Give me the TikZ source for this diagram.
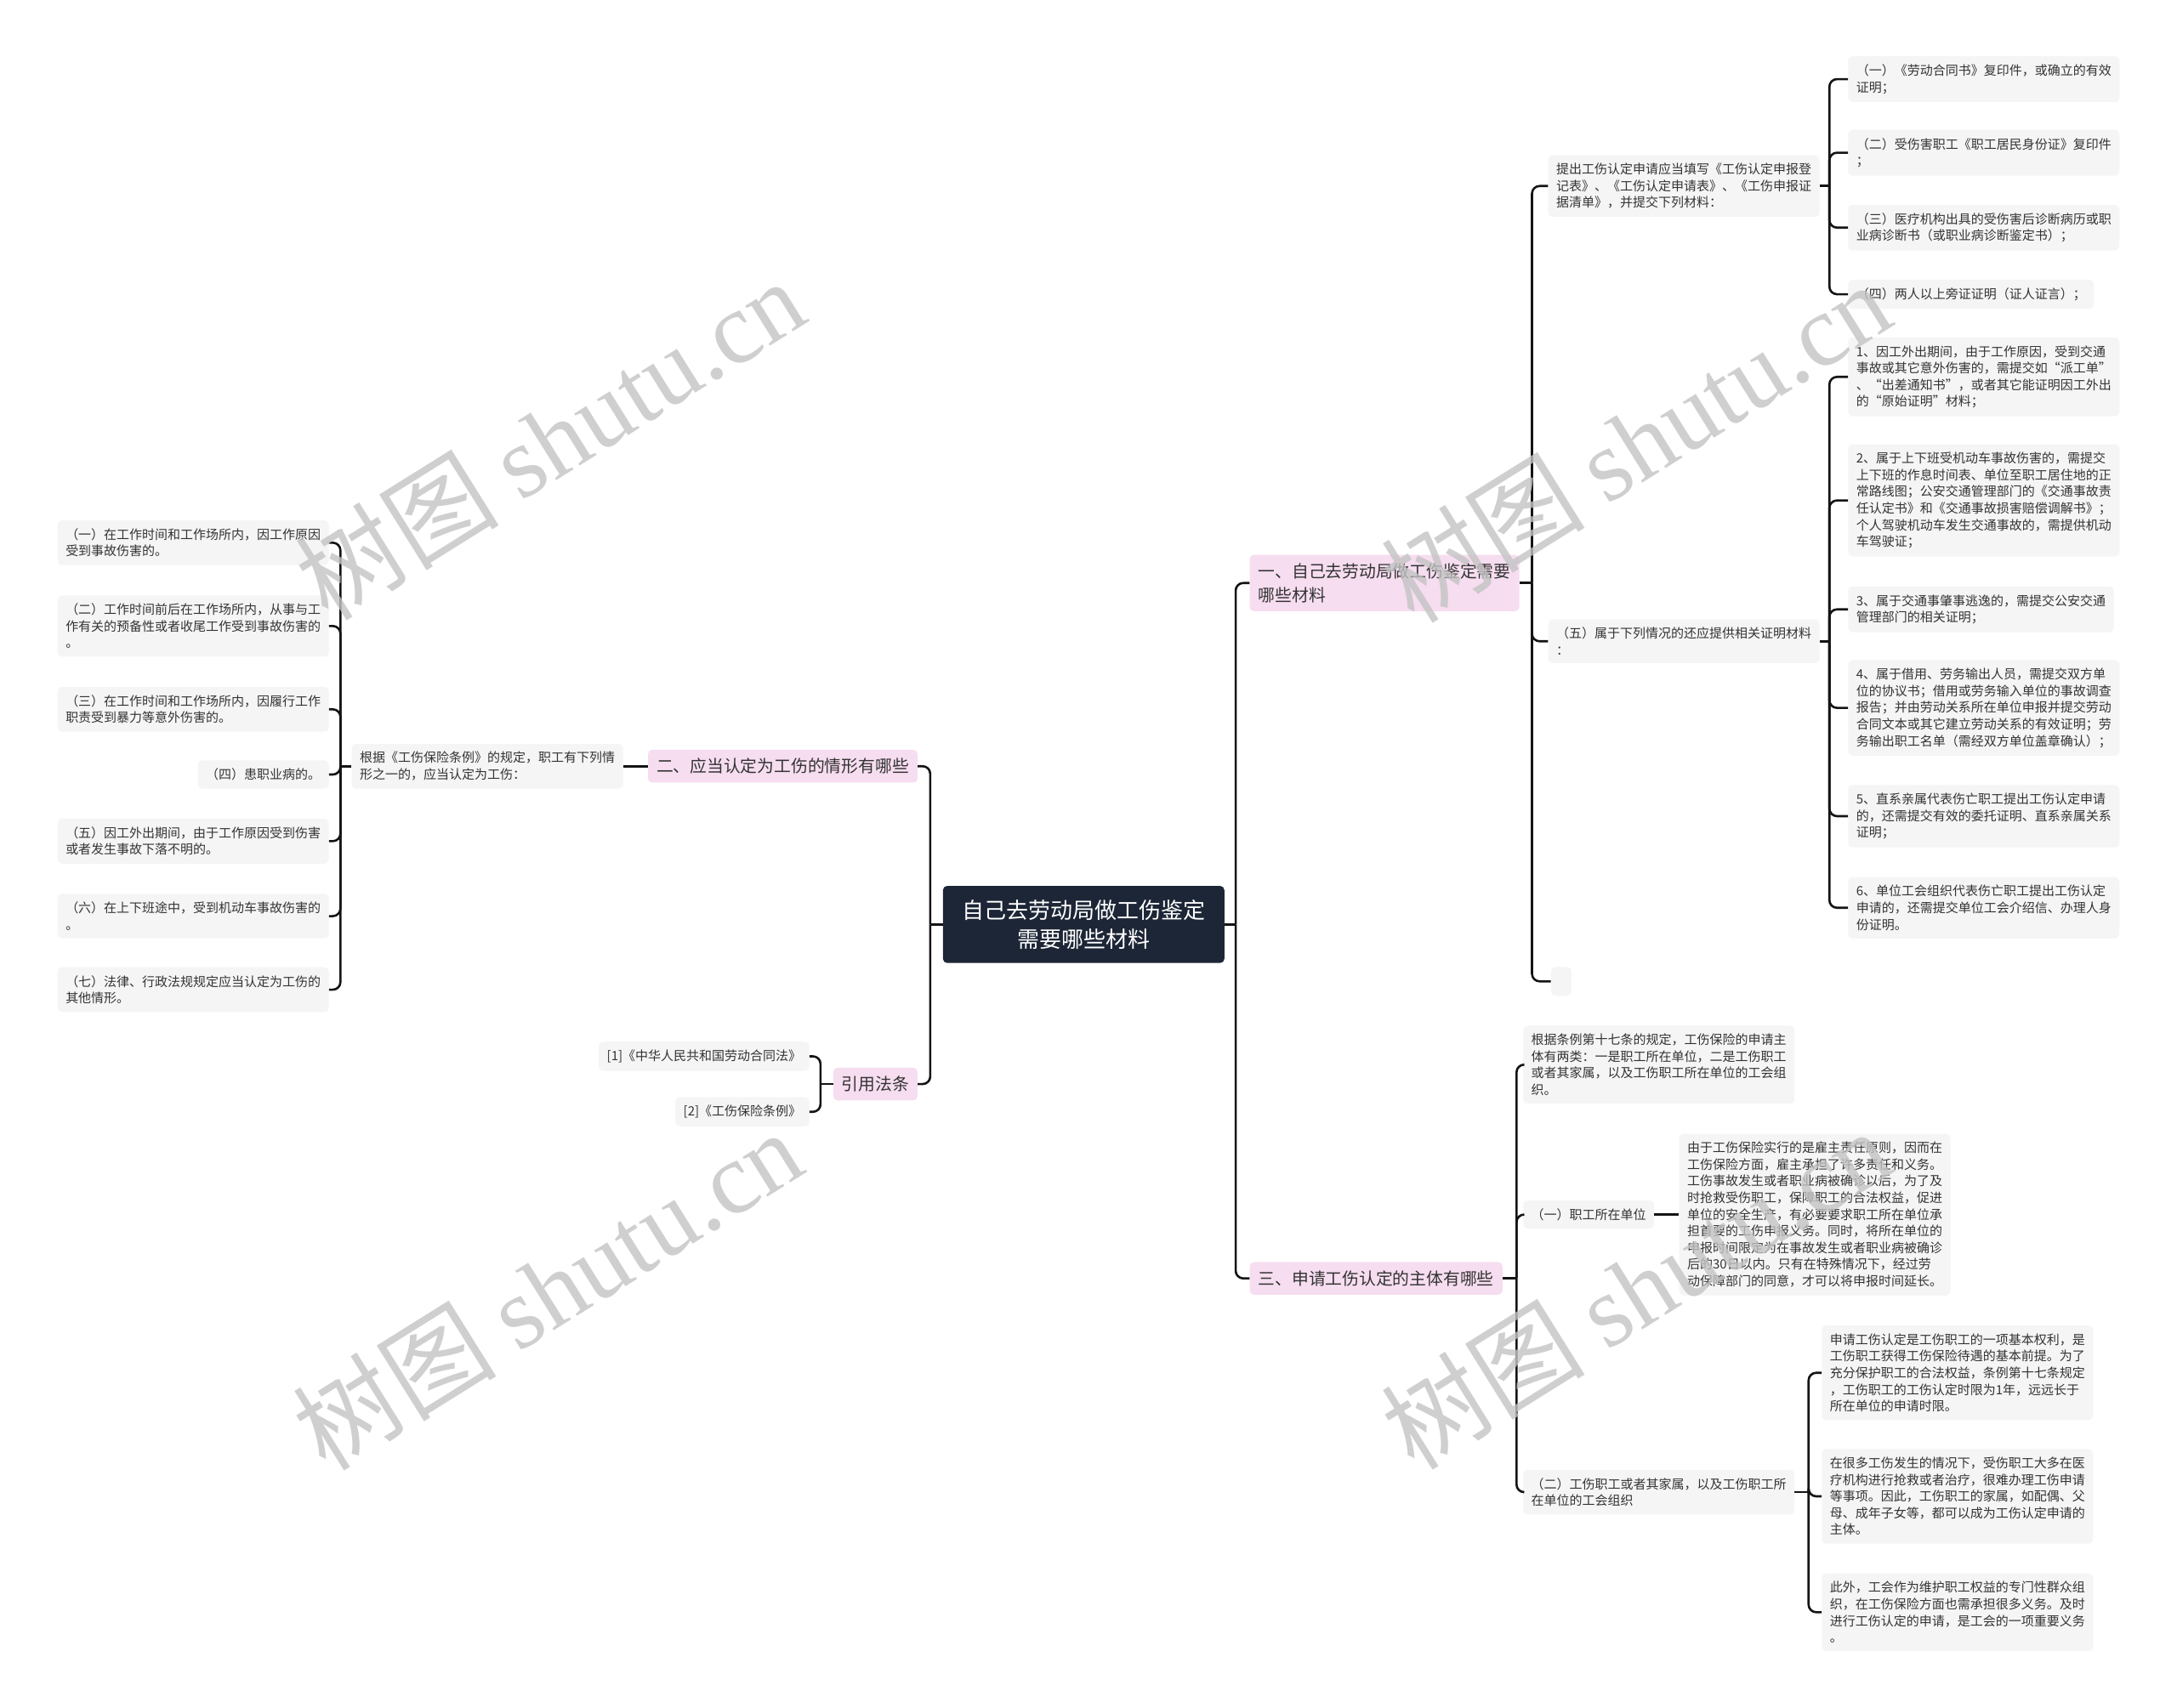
\documentclass[tikz,border=0pt]{standalone}
\usepackage{fontspec}
\setmainfont{Noto Sans CJK SC}
\newfontfamily\wmserif{Liberation Serif}
\usetikzlibrary{positioning}

\definecolor{rootc}{RGB}{29,38,54}
\definecolor{pinkc}{RGB}{246,221,240}
\definecolor{leafc}{RGB}{245,245,245}
\definecolor{txtc}{RGB}{51,51,51}
\definecolor{linec}{RGB}{20,20,20}
\definecolor{wmc}{RGB}{195,195,195}

\newcommand{\rootsize}{\fontsize{26}{34.5}\selectfont}
\newcommand{\topicsize}{\fontsize{19.8}{28}\selectfont}
\newcommand{\leafsize}{\fontsize{15}{19.6}\selectfont}

\begin{document}
\begin{tikzpicture}[
    x=1.6327pt, y=-1.6327pt,
    rootbox/.style={fill=rootc, text=white, rounded corners=5pt, font=\rootsize, align=center, inner xsep=22.5pt, inner ysep=16pt},
    topic/.style={fill=pinkc, text=txtc, rounded corners=5pt, font=\topicsize, align=left, inner xsep=10pt, inner ysep=10pt},
    leaf/.style={fill=leafc, text=txtc, rounded corners=5pt, font=\leafsize, align=left, inner xsep=9.5pt, inner ysep=9.5pt},
    link/.style={draw=linec, line width=2.6pt},
    turn/.style={link, rounded corners=9pt},
    wmtext/.style={text=wmc, opacity=0.8, rotate=32, font=\fontsize{120}{120}\selectfont}
]
    \useasboundingbox (0,0) rectangle (1568,1230.5);

    % centre
    \node[rootbox] (root) at (780.5,666) {自己去劳动局做工伤鉴定\\需要哪些材料};

    % main topics
    \node[topic, anchor=west] (t1) at (900,420) {一、自己去劳动局做工伤鉴定需要\\哪些材料};
    \node[topic, anchor=west] (t3) at (900,921) {三、申请工伤认定的主体有哪些};
    \node[topic, anchor=east] (t2) at (661,552) {二、应当认定为工伤的情形有哪些};
    \node[topic, anchor=east] (law) at (661,781) {引用法条};

    % topic one
    \node[leaf, anchor=west] (A1) at (1115,134) {提出工伤认定申请应当填写《工伤认定申报登\\记表》、《工伤认定申请表》、《工伤申报证\\据清单》，并提交下列材料：};
    \node[leaf, anchor=west] (A2) at (1115,462) {（五）属于下列情况的还应提供相关证明材料\\：};
    \node[leaf, anchor=west, minimum width=24pt, minimum height=34pt, inner sep=0pt] (A3) at (1117,707) {};

    \node[leaf, anchor=west] (A1a) at (1331,57) {（一）《劳动合同书》复印件，或确立的有效\\证明；};
    \node[leaf, anchor=west] (A1b) at (1331,110) {（二）受伤害职工《职工居民身份证》复印件\\；};
    \node[leaf, anchor=west] (A1c) at (1331,164) {（三）医疗机构出具的受伤害后诊断病历或职\\业病诊断书（或职业病诊断鉴定书）；};
    \node[leaf, anchor=west] (A1d) at (1331,212) {（四）两人以上旁证证明（证人证言）；};

    \node[leaf, anchor=west] (A2a) at (1331,271.5) {1、因工外出期间，由于工作原因，受到交通\\事故或其它意外伤害的，需提交如“派工单”\\、“出差通知书”，或者其它能证明因工外出\\的“原始证明”材料；};
    \node[leaf, anchor=west] (A2b) at (1331,360.5) {2、属于上下班受机动车事故伤害的，需提交\\上下班的作息时间表、单位至职工居住地的正\\常路线图；公安交通管理部门的《交通事故责\\任认定书》和《交通事故损害赔偿调解书》；\\个人驾驶机动车发生交通事故的，需提供机动\\车驾驶证；};
    \node[leaf, anchor=west] (A2c) at (1331,439) {3、属于交通事肇事逃逸的，需提交公安交通\\管理部门的相关证明；};
    \node[leaf, anchor=west] (A2d) at (1331,510) {4、属于借用、劳务输出人员，需提交双方单\\位的协议书；借用或劳务输入单位的事故调查\\报告；并由劳动关系所在单位申报并提交劳动\\合同文本或其它建立劳动关系的有效证明；劳\\务输出职工名单（需经双方单位盖章确认）；};
    \node[leaf, anchor=west] (A2e) at (1331,588) {5、直系亲属代表伤亡职工提出工伤认定申请\\的，还需提交有效的委托证明、直系亲属关系\\证明；};
    \node[leaf, anchor=west] (A2f) at (1331,654) {6、单位工会组织代表伤亡职工提出工伤认定\\申请的，还需提交单位工会介绍信、办理人身\\份证明。};

    % topic three
    \node[leaf, anchor=west] (B1) at (1097,767) {根据条例第十七条的规定，工伤保险的申请主\\体有两类：一是职工所在单位，二是工伤职工\\或者其家属，以及工伤职工所在单位的工会组\\织。};
    \node[leaf, anchor=west] (B2) at (1097,875) {（一）职工所在单位};
    \node[leaf, right=29pt of B2] (B2a) {由于工伤保险实行的是雇主责任原则，因而在\\工伤保险方面，雇主承担了许多责任和义务。\\工伤事故发生或者职业病被确诊以后，为了及\\时抢救受伤职工，保障职工的合法权益，促进\\单位的安全生产，有必要要求职工所在单位承\\担首要的工伤申报义务。同时，将所在单位的\\申报时间限定为在事故发生或者职业病被确诊\\后的30日以内。只有在特殊情况下，经过劳\\动保障部门的同意，才可以将申报时间延长。};
    \node[leaf, anchor=west] (B3) at (1097,1075) {（二）工伤职工或者其家属，以及工伤职工所\\在单位的工会组织};
    \node[leaf, anchor=west] (B3a) at (1312,989) {申请工伤认定是工伤职工的一项基本权利，是\\工伤职工获得工伤保险待遇的基本前提。为了\\充分保护职工的合法权益，条例第十七条规定\\，工伤职工的工伤认定时限为1年，远远长于\\所在单位的申请时限。};
    \node[leaf, anchor=west] (B3b) at (1312,1078) {在很多工伤发生的情况下，受伤职工大多在医\\疗机构进行抢救或者治疗，很难办理工伤申请\\等事项。因此，工伤职工的家属，如配偶、父\\母、成年子女等，都可以成为工伤认定申请的\\主体。};
    \node[leaf, anchor=west] (B3c) at (1312,1161.5) {此外，工会作为维护职工权益的专门性群众组\\织，在工伤保险方面也需承担很多义务。及时\\进行工伤认定的申请，是工会的一项重要义务\\。};

    % topic two
    \node[leaf, left=29pt of t2] (C1) {根据《工伤保险条例》的规定，职工有下列情\\形之一的，应当认定为工伤：};
    \node[leaf, anchor=east] (C1a) at (237,391) {（一）在工作时间和工作场所内，因工作原因\\受到事故伤害的。};
    \node[leaf, anchor=east] (C1b) at (237,451) {（二）工作时间前后在工作场所内，从事与工\\作有关的预备性或者收尾工作受到事故伤害的\\。};
    \node[leaf, anchor=east] (C1c) at (237,511) {（三）在工作时间和工作场所内，因履行工作\\职责受到暴力等意外伤害的。};
    \node[leaf, anchor=east] (C1d) at (237,558) {（四）患职业病的。};
    \node[leaf, anchor=east] (C1e) at (237,606) {（五）因工外出期间，由于工作原因受到伤害\\或者发生事故下落不明的。};
    \node[leaf, anchor=east] (C1f) at (237,660) {（六）在上下班途中，受到机动车事故伤害的\\。};
    \node[leaf, anchor=east] (C1g) at (237,713) {（七）法律、行政法规规定应当认定为工伤的\\其他情形。};

    % laws
    \node[leaf, anchor=east] (D1) at (583,761) {[1]《中华人民共和国劳动合同法》};
    \node[leaf, anchor=east] (D2) at (583,801) {[2]《工伤保险条例》};

    % connectors
    \draw[link] (root.east) -- ++(8,0) coordinate (rj);
    \draw[turn] (rj) |- (t1.west);
    \draw[turn] (rj) |- (t3.west);
    \draw[link] (root.west) -- ++(-9,0) coordinate (lj);
    \draw[turn] (lj) |- (t2.east);
    \draw[turn] (lj) |- (law.east);

    \draw[link] (t1.east) -- ++(9,0) coordinate (t1j);
    \foreach \c in {A1,A2,A3}
        \draw[turn] (t1j) |- (\c.west);
    \draw[link] (A1.east) -- ++(7,0) coordinate (A1j);
    \foreach \c in {A1a,A1b,A1c,A1d}
        \draw[turn] (A1j) |- (\c.west);
    \draw[link] (A2.east) -- ++(7,0) coordinate (A2j);
    \foreach \c in {A2a,A2b,A2c,A2d,A2e,A2f}
        \draw[turn] (A2j) |- (\c.west);

    \draw[link] (t3.east) -- ++(10,0) coordinate (t3j);
    \foreach \c in {B1,B2,B3}
        \draw[turn] (t3j) |- (\c.west);
    \draw[link] (B2) -- (B2a);
    \draw[link] (B3.east) -- ++(10,0) coordinate (B3j);
    \foreach \c in {B3a,B3b,B3c}
        \draw[turn] (B3j) |- (\c.west);

    \draw[link] (t2) -- (C1);
    \draw[link] (C1.west) -- ++(-8,0) coordinate (C1j);
    \foreach \c in {C1a,C1b,C1c,C1d,C1e,C1f,C1g}
        \draw[turn] (C1j) |- (\c.east);
    \draw[link] (law.west) -- ++(-9,0) coordinate (lawj);
    \foreach \c in {D1,D2}
        \draw[turn] (lawj) |- (\c.east);

    % watermark
    \node[wmtext] (wm1) at (396,316) {树图 {\wmserif shutu.cn}};
    \node[wmtext] (wm2) at (1178,318) {树图 {\wmserif shutu.cn}};
    \node[wmtext] (wm3) at (394,929) {树图 {\wmserif shutu.cn}};
    \node[wmtext] (wm4) at (1178,928) {树图 {\wmserif shutu.cn}};
\end{tikzpicture}
\end{document}
